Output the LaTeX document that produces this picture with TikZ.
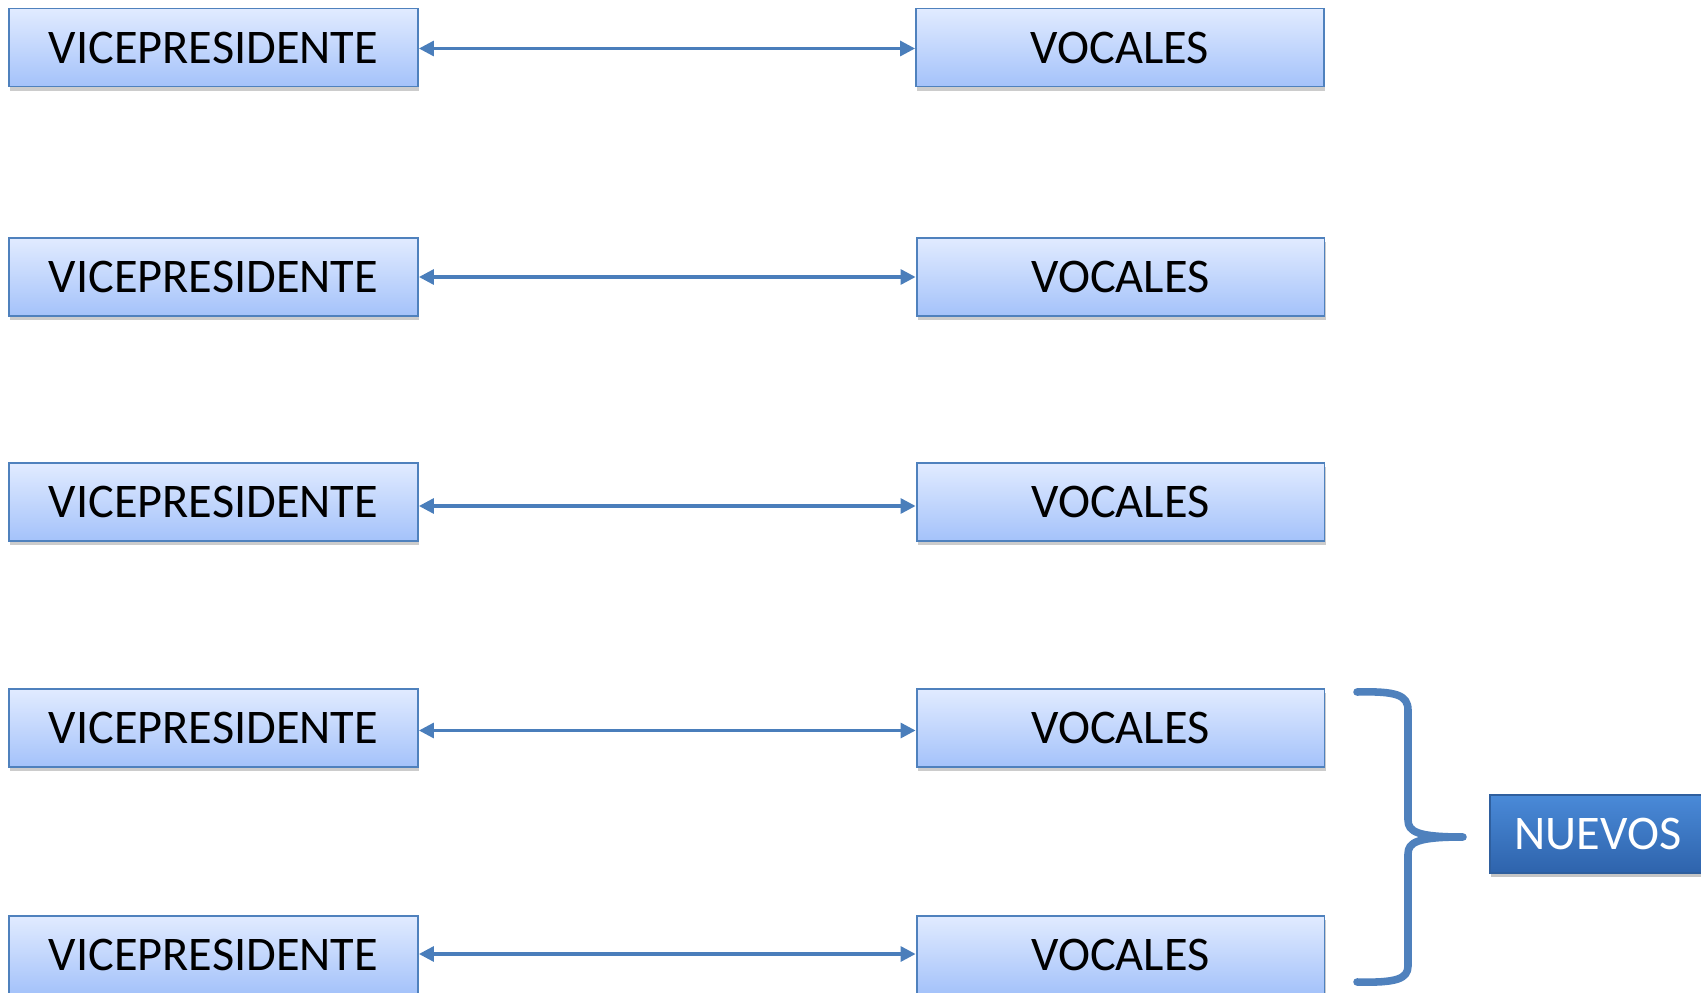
\documentclass[tikz,border=0pt]{standalone}
\usepackage{fontspec}
\setmainfont{Carlito}
\usetikzlibrary{arrows.meta,shadows}
\definecolor{boxtop}{HTML}{E1EBFF}
\definecolor{boxbot}{HTML}{A4C2FA}
\definecolor{boxline}{HTML}{4F81BD}
\definecolor{arrcol}{HTML}{4A7EBB}
\definecolor{nutop}{HTML}{4A8AD8}
\definecolor{nubot}{HTML}{2E63AC}
\definecolor{nuline}{HTML}{2F5F9E}
\tikzset{
  rolebox/.style={draw=boxline, line width=1.1pt, top color=boxtop, bottom color=boxbot,
    minimum height=1.56cm, inner sep=0pt, font=\fontsize{27.5}{32}\selectfont,
    drop shadow={opacity=0.4, shadow xshift=0.8pt, shadow yshift=-2.5pt}},
  leftbox/.style={rolebox, minimum width=8.18cm},
  rightbox/.style={rolebox, minimum width=8.16cm},
  link/.style={draw=arrcol, line width=1.8pt,
    {Triangle[length=0.3cm,width=0.3cm]}-{Triangle[length=0.3cm,width=0.3cm]}},
  bracestyle/.style={draw=boxline, line width=4.3pt, line cap=round, line join=round},
  nuevosbox/.style={draw=nuline, line width=1pt, top color=nutop, bottom color=nubot,
    minimum width=4.32cm, minimum height=1.56cm, inner sep=0pt, text=white,
    font=\fontsize{27.5}{32}\selectfont,
    drop shadow={opacity=0.45, shadow xshift=0.8pt, shadow yshift=-2.5pt}}
}
\begin{document}
\begin{tikzpicture}[x=0.02cm,y=-0.02cm]
\useasboundingbox (0,0) rectangle (1701,993);
\fill[white] (0,0) rectangle (1701,993);
\node[leftbox]  (L1) at (213.5,47.5) {VICEPRESIDENTE};
\node[rightbox] (R1) at (1120,47.5) {VOCALES};
\node[leftbox]  (L2) at (213.5,277) {VICEPRESIDENTE};
\node[rightbox] (R2) at (1120.5,277) {VOCALES};
\node[leftbox]  (L3) at (213.5,502) {VICEPRESIDENTE};
\node[rightbox] (R3) at (1120.5,502) {VOCALES};
\node[leftbox]  (L4) at (213.5,728) {VICEPRESIDENTE};
\node[rightbox] (R4) at (1120.5,728) {VOCALES};
\node[leftbox]  (L5) at (213.5,955) {VICEPRESIDENTE};
\node[rightbox] (R5) at (1120.5,955) {VOCALES};
\draw[link] ([yshift=-0.02cm]L1.east) -- ([yshift=-0.02cm]R1.west);
\draw[link] (L2.east) -- (R2.west);
\draw[link] ([yshift=-0.08cm]L3.east) -- ([yshift=-0.08cm]R3.west);
\draw[link] ([yshift=-0.05cm]L4.east) -- ([yshift=-0.05cm]R4.west);
\draw[link] ([yshift=0.02cm]L5.east) -- ([yshift=0.02cm]R5.west);
\node[nuevosbox] (N) at (1598,834) {NUEVOS};
\draw[bracestyle] (1357,692) .. controls (1396,691) and (1408,695) .. (1408,710)
  -- (1408,820) .. controls (1408,832) and (1418,837) .. (1463,837)
  .. controls (1418,837) and (1408,842) .. (1408,854)
  -- (1408,966) .. controls (1408,979) and (1396,983) .. (1357,982);
\end{tikzpicture}
\end{document}
